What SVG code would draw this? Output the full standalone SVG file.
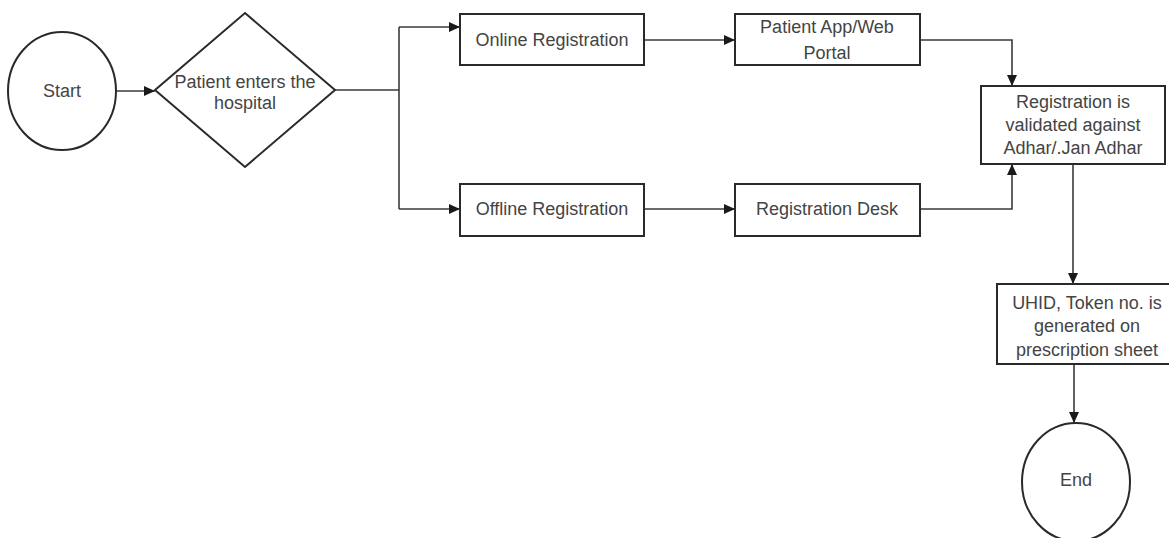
<svg xmlns="http://www.w3.org/2000/svg" width="1169" height="538" viewBox="0 0 1169 538">
  <defs>
    <marker id="arrow" markerWidth="12" markerHeight="10" refX="11" refY="5" orient="auto" markerUnits="userSpaceOnUse">
      <path d="M0,0 L11,5 L0,10 Z" fill="#1a1a1a"/>
    </marker>
    <style>
      .shape { fill: #ffffff; stroke: #2a2a2a; stroke-width: 2; }
      .edge { fill: none; stroke: #3a3a3a; stroke-width: 1.6; }
      .label { font-family: "Liberation Sans", Arial, sans-serif; font-size: 18px; fill: #444444; text-anchor: middle; }
    </style>
  </defs>
  <rect width="1169" height="538" fill="#ffffff"/>

  <!-- connectors -->
  <g id="connectors">
    <path class="edge" d="M117,91 H155" marker-end="url(#arrow)"/>
    <path class="edge" d="M335,90 H399"/>
    <path class="edge" d="M399,27 V209"/>
    <path class="edge" d="M399,27 H460" marker-end="url(#arrow)"/>
    <path class="edge" d="M399,209 H460" marker-end="url(#arrow)"/>
    <path class="edge" d="M644,40 H735" marker-end="url(#arrow)"/>
    <path class="edge" d="M644,209 H735" marker-end="url(#arrow)"/>
    <path class="edge" d="M920,40 H1012 V86" marker-end="url(#arrow)"/>
    <path class="edge" d="M920,209 H1012 V164" marker-end="url(#arrow)"/>
    <path class="edge" d="M1073,164 V284" marker-end="url(#arrow)"/>
    <path class="edge" d="M1074,364 V423" marker-end="url(#arrow)"/>
  </g>

  <g id="start">
    <ellipse class="shape" cx="62" cy="91" rx="54" ry="59"/>
    <text class="label" x="62" y="97">Start</text>
  </g>

  <g id="enters">
    <polygon class="shape" points="155,90 245,13 335,90 245,167"/>
    <text class="label" x="245" y="88">Patient enters the</text>
    <text class="label" x="245" y="109">hospital</text>
  </g>

  <g id="online">
    <rect class="shape" x="460" y="14" width="184" height="51"/>
    <text class="label" x="552" y="46">Online Registration</text>
  </g>

  <g id="portal">
    <rect class="shape" x="735" y="14" width="185" height="51"/>
    <text class="label" x="827" y="33">Patient App/Web</text>
    <text class="label" x="827" y="59">Portal</text>
  </g>

  <g id="offline">
    <rect class="shape" x="460" y="184" width="184" height="52"/>
    <text class="label" x="552" y="215">Offline Registration</text>
  </g>

  <g id="desk">
    <rect class="shape" x="735" y="184" width="185" height="52"/>
    <text class="label" x="827" y="215">Registration Desk</text>
  </g>

  <g id="validate">
    <rect class="shape" x="981" y="86" width="184" height="78"/>
    <text class="label" x="1073" y="108">Registration is</text>
    <text class="label" x="1073" y="131">validated against</text>
    <text class="label" x="1073" y="154">Adhar/.Jan Adhar</text>
  </g>

  <g id="uhid">
    <rect class="shape" x="997" y="284" width="180" height="80"/>
    <text class="label" x="1087" y="309">UHID, Token no. is</text>
    <text class="label" x="1087" y="332">generated on</text>
    <text class="label" x="1087" y="356">prescription sheet</text>
  </g>

  <g id="end">
    <ellipse class="shape" cx="1076" cy="482" rx="54" ry="59"/>
    <text class="label" x="1076" y="486">End</text>
  </g>
</svg>
